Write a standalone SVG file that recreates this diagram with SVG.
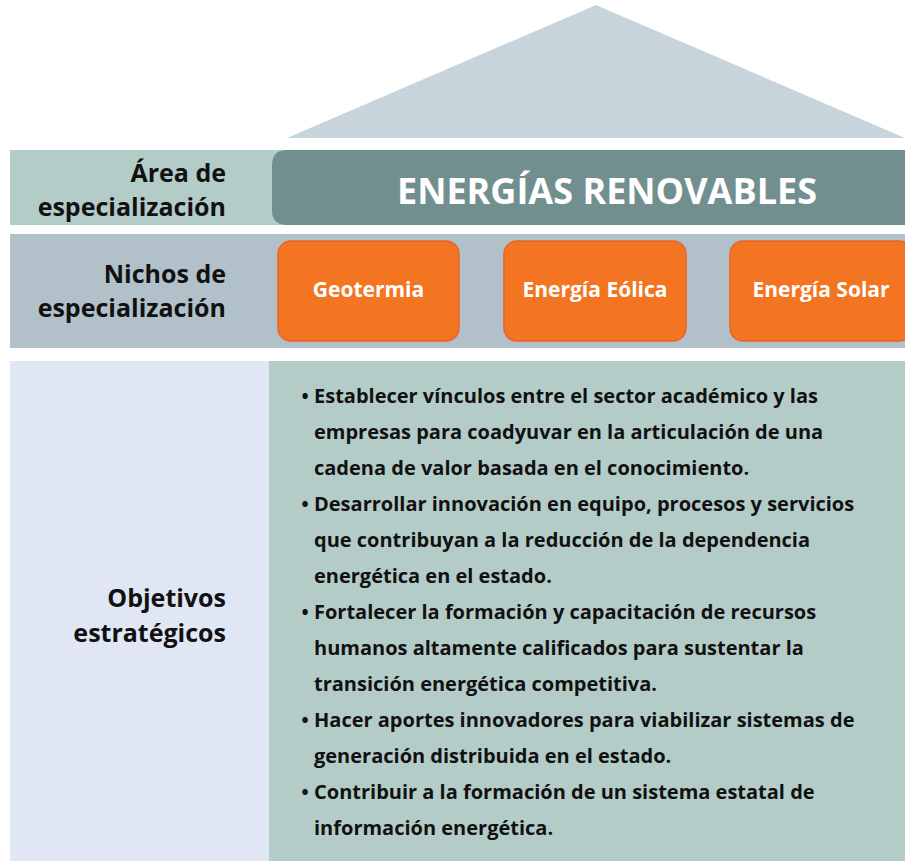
<svg xmlns="http://www.w3.org/2000/svg" width="905" height="861" viewBox="0 0 905 861">
<style>
  .lbl { font-family: "Open Sans", "Noto Sans", sans-serif; font-weight: bold; font-size: 25px; fill: #111; text-anchor: end; }
  .niche { fill: #f37521; stroke: #e8632a; stroke-width: 1.5; }
  .nt { font-family: "Open Sans", "Noto Sans", sans-serif; font-weight: bold; font-size: 21px; fill: #fff; text-anchor: middle; }
  .obj { font-family: "Open Sans", "Noto Sans", sans-serif; font-weight: bold; font-size: 20px; fill: #111; }
  .bul { font-family: "Open Sans", "Noto Sans", sans-serif; font-weight: bold; font-size: 19px; fill: #111; text-anchor: middle; }
</style>
<rect width="905" height="861" fill="#fff"/>
<g id="roof">
  <polygon points="596,5 905,138 287,138" fill="#c8d4db"/>
</g>
<g id="area">
  <rect x="10" y="150" width="895" height="75" fill="#b4ccc8"/>
  <text class="lbl" x="226" y="182">Área de</text>
  <text class="lbl" x="226" y="216">especialización</text>
  <path d="M287,150 H905 V225 H287 Q272,225 272,210 V165 Q272,150 287,150 Z" fill="#728f8f"/>
  <text x="607" y="204" font-family="'Open Sans', 'Noto Sans', sans-serif" font-weight="bold" font-size="36" fill="#fff" text-anchor="middle">ENERGÍAS RENOVABLES</text>
</g>
<g id="nichos">
  <rect x="10" y="234" width="895" height="114" fill="#b1c0c9"/>
  <text class="lbl" x="226" y="283">Nichos de</text>
  <text class="lbl" x="226" y="317">especialización</text>
</g>
<g id="geotermia">
  <rect class="niche" x="278" y="241" width="181" height="100" rx="13"/>
  <text class="nt" x="368.5" y="297">Geotermia</text>
</g>
<g id="eolica">
  <rect class="niche" x="504" y="241" width="182" height="100" rx="13"/>
  <text class="nt" x="595" y="297">Energía Eólica</text>
</g>
<g id="solar">
  <rect class="niche" x="730" y="241" width="182" height="100" rx="13"/>
  <text class="nt" x="821" y="297">Energía Solar</text>
</g>
<g id="objetivos">
  <rect x="10" y="361" width="259" height="500" fill="#e0e6f4"/>
  <rect x="269" y="361" width="636" height="500" fill="#b4ccc8"/>
  <text class="lbl" x="226" y="607">Objetivos</text>
  <text class="lbl" x="226" y="642">estratégicos</text>
  <g class="bul">
    <text x="305" y="403">•</text>
    <text x="305" y="511">•</text>
    <text x="305" y="619">•</text>
    <text x="305" y="727">•</text>
    <text x="305" y="799">•</text>
  </g>
  <g class="obj">
    <text x="314" y="403">Establecer vínculos entre el sector académico y las</text>
    <text x="314" y="439">empresas para coadyuvar en la articulación de una</text>
    <text x="314" y="475">cadena de valor basada en el conocimiento.</text>
    <text x="314" y="511">Desarrollar innovación en equipo, procesos y servicios</text>
    <text x="314" y="547">que contribuyan a la reducción de la dependencia</text>
    <text x="314" y="583">energética en el estado.</text>
    <text x="314" y="619">Fortalecer la formación y capacitación de recursos</text>
    <text x="314" y="655">humanos altamente calificados para sustentar la</text>
    <text x="314" y="691">transición energética competitiva.</text>
    <text x="314" y="727">Hacer aportes innovadores para viabilizar sistemas de</text>
    <text x="314" y="763">generación distribuida en el estado.</text>
    <text x="314" y="799">Contribuir a la formación de un sistema estatal de</text>
    <text x="314" y="835">información energética.</text>
  </g>
</g>
</svg>
